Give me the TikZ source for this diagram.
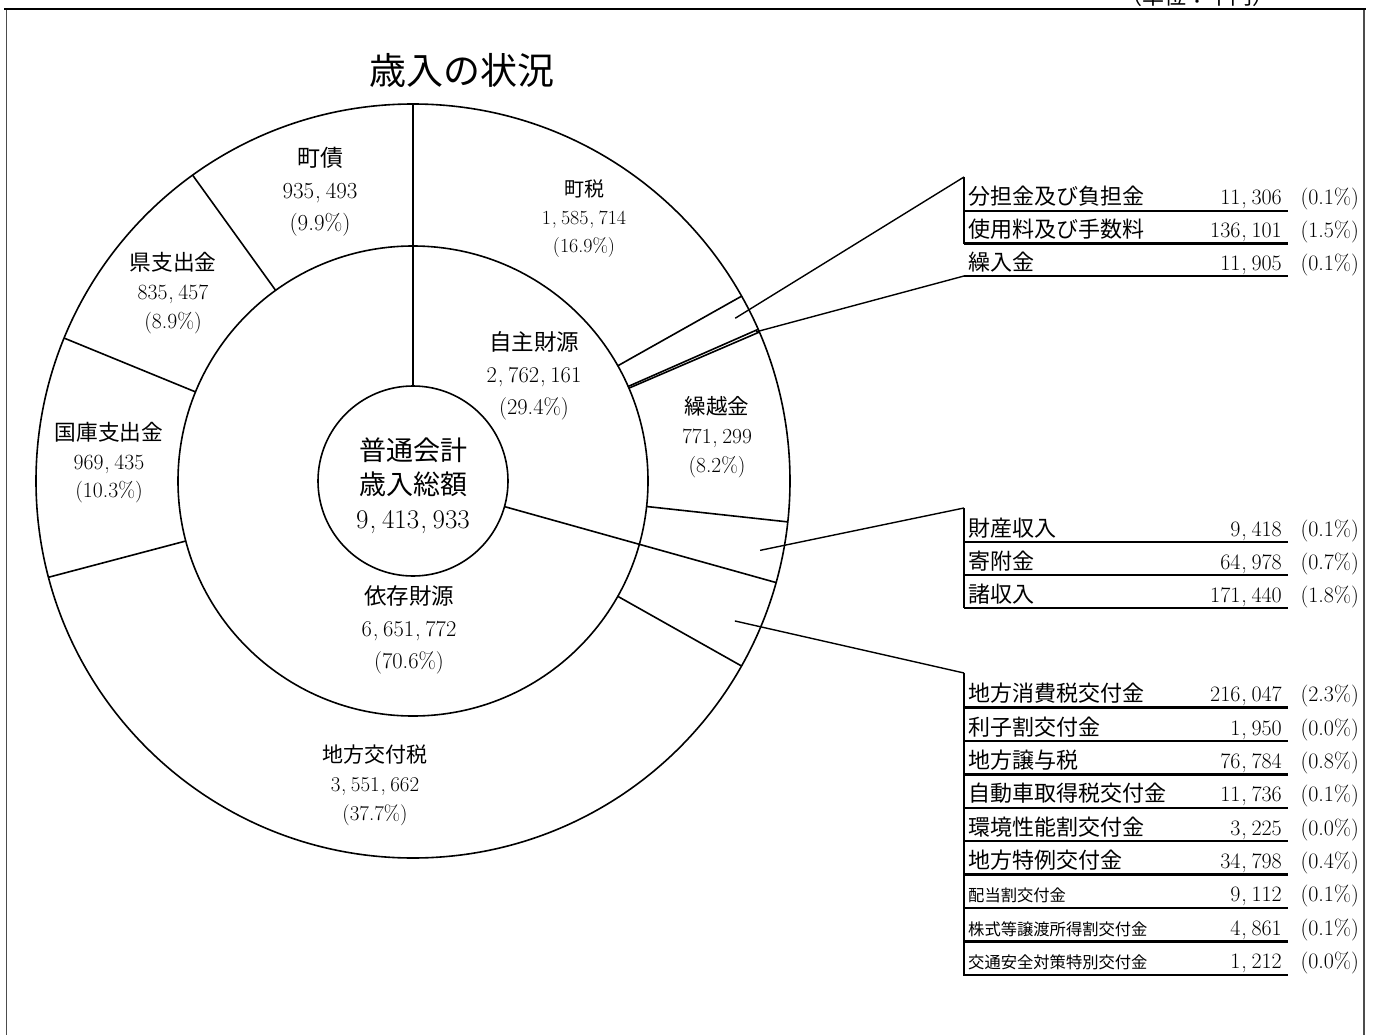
\documentclass[tikz,border=0pt]{standalone}
\usepackage{fontspec}
\newfontfamily\jp{Noto Sans CJK JP}
\newcommand\kc{\makebox[.5em][l]{\hspace{.04em},}}
\begin{document}
\begin{tikzpicture}[x=1pt,y=1pt,
  ring/.style={line width=1.6},
  seg/.style={line width=1.6},
  lead/.style={line width=1.4},
  bar/.style={line width=2.6},
  uline/.style={line width=2.4},
  lbl/.style={align=center, inner sep=0},
  tname/.style={anchor=base west, inner sep=0},
  tnum/.style={anchor=base east, inner sep=0, font=\fontsize{22}{22}\selectfont},
  tpct/.style={anchor=base east, inner sep=0, font=\fontsize{22}{22}\selectfont},
]
\useasboundingbox (0,0) rectangle (1374,-1035);
% frame
\draw[line width=1.6] (4,-9) -- (1366,-9);
\draw[gray!60!black, line width=1.2] (6.5,-10) -- (6.5,-1040);
\draw[gray!60!black, line width=1.2] (1364,-10) -- (1364,-1040);
\node[anchor=base, inner sep=0, font=\jp\fontsize{22}{22}\selectfont] (unit) at (1197,-4.5) {（単位：千円）};
% title
\node[inner sep=0, font=\jp\fontsize{37}{37}\selectfont] (title) at (462,-70) {歳入の状況};

\begin{scope}[shift={(413,-481)}]
  \coordinate (c) at (0,0);
  \draw[ring] (c) circle (377);
  \draw[ring] (c) circle (235);
  \draw[ring] (c) circle (95);
  % inner ring boundaries
  \foreach \a in {90,-15.628} \draw[seg] (\a:95) -- (\a:377);
  % outer ring boundaries
  \foreach \a in {29.36,23.723,23.268,-6.228,-29.385,-165.205,157.723,125.774}
    \draw[seg] (\a:235) -- (\a:377);
  % leader start points
  \coordinate (s1) at (26.8:361);
  \coordinate (s2) at (23.5:374);
  \coordinate (s3) at (-11.3:354);
  \coordinate (s4) at (-23.5:351);
\end{scope}

% labels in the rings
\node[lbl, font=\fontsize{27}{34}\selectfont] (total) at (413,-486) {{\jp 普通会計}\\{\jp 歳入総額}\\9\kc413\kc933};
\node[lbl, font=\fontsize{22.5}{32}\selectfont] (jishu) at (534,-376) {{\jp 自主財源}\\2\kc762\kc161\\(29.4\%)};
\node[lbl, font=\fontsize{22.5}{32}\selectfont] (izon) at (409,-630) {{\jp 依存財源}\\6\kc651\kc772\\(70.6\%)};
\node[lbl, font=\fontsize{20}{28}\selectfont] (chozei) at (584,-219) {{\jp 町税}\\1\kc585\kc714\\(16.9\%)};
\node[lbl, font=\fontsize{23}{32}\selectfont] (chosai) at (320,-192) {{\jp 町債}\\935\kc493\\(9.9\%)};
\node[lbl, font=\fontsize{21.7}{29}\selectfont] (ken) at (173,-293) {{\jp 県支出金}\\835\kc457\\(8.9\%)};
\node[lbl, font=\fontsize{21.7}{28.5}\selectfont] (kokko) at (109,-463) {{\jp 国庫支出金}\\969\kc435\\(10.3\%)};
\node[lbl, font=\fontsize{21.5}{29}\selectfont] (kurikoshi) at (717,-437) {{\jp 繰越金}\\771\kc299\\(8.2\%)};
\node[lbl, font=\fontsize{21}{29}\selectfont] (kofuzei) at (375,-785) {{\jp 地方交付税}\\3\kc551\kc662\\(37.7\%)};

% table rows
\foreach \nm/\val/\pc/\yy/\fs in {
  分担金及び負担金/11\kc306/(0.1\%)/211/22,
  使用料及び手数料/136\kc101/(1.5\%)/243.5/22,
  繰入金/11\kc905/(0.1\%)/276/22,
  財産収入/9\kc418/(0.1\%)/542/22,
  寄附金/64\kc978/(0.7\%)/575/22,
  諸収入/171\kc440/(1.8\%)/608/22,
  地方消費税交付金/216\kc047/(2.3\%)/707.5/22,
  利子割交付金/1\kc950/(0.0\%)/741/22,
  地方譲与税/76\kc784/(0.8\%)/774.3/22,
  自動車取得税交付金/11\kc736/(0.1\%)/807.7/22,
  環境性能割交付金/3\kc225/(0.0\%)/841.1/22,
  地方特例交付金/34\kc798/(0.4\%)/874.5/22,
  配当割交付金/9\kc112/(0.1\%)/907.9/16.3,
  株式等譲渡所得割交付金/4\kc861/(0.1\%)/941.3/16.3,
  交通安全対策特別交付金/1\kc212/(0.0\%)/974.7/16.3}{
  \node[tname, font={\jp\fontsize{\fs}{\fs}\selectfont}] (n\yy) at (968,-\yy+6) {\nm};
  \node[tnum] (v\yy) at (1282,-\yy+6) {\val};
  \node[tpct] (p\yy) at (1359,-\yy+6) {\pc};
  \draw[uline] (964,-\yy) -- (1288,-\yy);
}

% brackets
\coordinate (b1t) at (964,-177);
\coordinate (b2t) at (964,-276);
\coordinate (b3t) at (964,-508);
\coordinate (b4t) at (964,-673);
\draw[bar] (b1t) -- (964,-244);
\draw[bar] (b3t) -- (964,-608);
\draw[bar] (b4t) -- (964,-975.5);

% leaders
\draw[lead] (s1) -- (b1t);
\draw[lead] (s2) -- (b2t);
\draw[lead] (s3) -- (b3t);
\draw[lead] (s4) -- (b4t);
\end{tikzpicture}
\end{document}
